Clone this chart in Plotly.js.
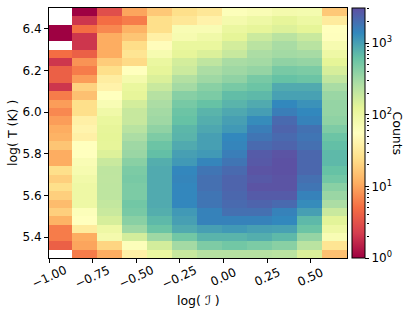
<!DOCTYPE html>
<html>
<head>
<meta charset="utf-8">
<script src="https://cdn.plot.ly/plotly-3.0.1.min.js"></script>
<style>html,body{margin:0;padding:0;background:#fff;}#chart{width:415px;height:312px;}</style>
</head>
<body>
<div id="chart"></div>
<script>
// Bin edges of the 2D histogram
var xEdges = [-1.009, -0.866, -0.724, -0.581, -0.438, -0.296, -0.153, -0.010, 0.132, 0.275, 0.418, 0.560, 0.703, 0.846];
var yEdges = [5.30, 5.34, 5.38, 5.42, 5.46, 5.50, 5.54, 5.58, 5.62, 5.66, 5.70, 5.74, 5.78, 5.82, 5.86, 5.90,
              5.94, 5.98, 6.02, 6.06, 6.10, 6.14, 6.18, 6.22, 6.26, 6.30, 6.34, 6.38, 6.42, 6.46, 6.50];

// Counts per x-bin column, listed from the top row (6.46-6.50) down to the bottom row (5.30-5.34); 0 = empty
var col00 = [0,0,1,1,0,5,2,4,4,2,6,9,7,9,11, 12,16,11,11,25,19,25,19,14,19,12,6,6,4,0];
var col01 = [1,2,5,2,2,4,8,6,9,20,15,25,25,38,42, 38,55,55,68,75,88,95,95,95,62,55,33,11,10,6];
var col02 = [3,5,7,11,11,11,18,25,35,40,55,70,90,110,120, 125,120,140,185,215,210,215,215,200,185,155,95,80,21,11];
var col03 = [10,6,12,16,24,28,23,55,80,110,120,160,190,190,230, 275,320,340,410,480,500,480,480,540,500,410,320,160,62,38];
var col04 = [17,25,25,38,52,75,105,120,145,185,240,275,300,320,380, 470,580,650,820,860,860,860,860,860,820,700,580,320,160,105];
var col05 = [25,30,70,75,110,120,160,180,250,300,420,510,580,620,720, 750,860,1000,1100,1400,1450,1400,1400,1400,1100,1000,860,540,300,190];
var col06 = [30,40,70,90,110,145,210,275,320,410,480,620,750,820,900, 1000,1000,1100,1450,1800,1950,1950,1800,1800,1500,1500,1000,750,470,240];
var col07 = [62,80,105,125,160,190,285,320,380,500,660,750,890,1000,1100, 1380,1450,1600,1800,2100,2300,2300,2200,2100,1950,1500,1100,750,540,240];
var col08 = [68,95,120,180,225,275,300,360,500,580,700,860,1020,1300,1600, 1800,2100,2600,2700,2900,2700,2900,2600,2300,1950,1500,1000,820,480,240];
var col09 = [80,120,140,225,285,305,380,500,620,860,980,1380,1600,2100,2300, 2100,2300,2900,3000,3000,2900,2900,2600,2100,1500,1380,980,700,410,225];
var col10 = [78,100,125,185,230,290,360,480,580,860,980,1200,1380,1500,1900, 1800,1950,2200,2200,2200,1950,1800,1500,1300,1000,700,580,360,225,145];
var col11 = [17,33,55,58,75,95,125,155,205,285,340,360,360,385,470, 580,650,700,700,620,540,410,340,275,185,130,95,70,28,15];
var col12 = [6,10,15,18,15,6,6,15,20,25,20,25,22,25,30, 25,25,30,25,20,25,20,20,15,12,2,2,15,20,12];

var xTickVals = [-1.0, -0.75, -0.5, -0.25, 0.0, 0.25, 0.5];
var xTickText = ['\u22121.00', '\u22120.75', '\u22120.50', '\u22120.25', '0.00', '0.25', '0.50'];
var yTickVals = [5.4, 5.6, 5.8, 6.0, 6.2, 6.4];
var cbarMajor = [0, 1, 2, 3];
var cbarMajorText = ['10<sup>0</sup>', '10<sup>1</sup>', '10<sup>2</sup>', '10<sup>3</sup>'];
var cbarMinorMult = [2, 3, 4, 5, 6, 7, 8, 9];
var countMax = 3090;

// matplotlib "Spectral"
var spectral = ['#9e0142','#d53e4f','#f46d43','#fdae61','#fee08b','#ffffbf','#e6f598','#abdda4','#66c2a5','#3288bd','#5e4fa2'];
var colorscale = spectral.map(function(c, i){ return [i/(spectral.length-1), c]; });

var columns = [col00, col01, col02, col03, col04, col05, col06, col07, col08, col09, col10, col11, col12];
var nRows = col00.length;
var z = [];
for (var r = 0; r < nRows; r++) {
  var row = [];
  var src = nRows - 1 - r; // bottom row first
  for (var c = 0; c < columns.length; c++) {
    var v = columns[c][src];
    row.push(v > 0 ? Math.log10(v) : null);
  }
  z.push(row);
}
var zMax = Math.log10(countMax);

// minor tick positions for the log colorbar
var minorVals = [];
cbarMajor.forEach(function(d){
  cbarMinorMult.forEach(function(m){
    var val = d + Math.log10(m);
    if (val <= zMax) minorVals.push(val);
  });
});

// geometry (pixels)
var W = 415, H = 312, mL = 49, mR = 10, mT = 8, mB = 54;
var plotW = 298, plotH = 250;
var paperW = W - mL - mR;
function px2paperX(px){ return (px - mL) / paperW; }
function px2paperY(py){ return (H - mB - py) / plotH; }

var tickFont = {family: 'DejaVu Sans, sans-serif', size: 12, color: '#000'};
var labelFont = {family: 'DejaVu Sans, sans-serif', size: 12.5, color: '#000'};

var trace = {
  type: 'heatmap',
  x: xEdges,
  y: yEdges,
  z: z,
  zmin: 0,
  zmax: zMax,
  colorscale: colorscale,
  hoverongaps: false,
  colorbar: {
    x: px2paperX(351.5), xanchor: 'left', xpad: 0,
    y: 0.5, yanchor: 'middle', len: 1, lenmode: 'fraction', ypad: 0,
    thickness: 13, thicknessmode: 'pixels',
    outlinewidth: 1, outlinecolor: '#000',
    tickmode: 'array', tickvals: cbarMajor, ticktext: cbarMajorText,
    ticks: 'outside', ticklen: 4, tickwidth: 1, tickcolor: '#000',
    tickfont: tickFont
  }
};

var annotations = xTickVals.map(function(v, i){
  return {xref: 'x', yref: 'paper', x: v, y: px2paperY(277), text: xTickText[i],
          showarrow: false, textangle: -25, xanchor: 'center', yanchor: 'middle', font: tickFont};
});
annotations.push({xref: 'paper', yref: 'paper', x: px2paperX(mL + plotW / 2), y: px2paperY(300),
  text: 'log( \u2110 )', showarrow: false, xanchor: 'center', yanchor: 'middle', font: labelFont});
annotations.push({xref: 'paper', yref: 'paper', x: px2paperX(12), y: 0.5,
  text: 'log( T (K) )', showarrow: false, textangle: -90, xanchor: 'center', yanchor: 'middle', font: labelFont});
annotations.push({xref: 'paper', yref: 'paper', x: px2paperX(397.5), y: 0.5,
  text: 'Counts', showarrow: false, textangle: 90, xanchor: 'center', yanchor: 'middle', font: labelFont});

// invisible trace to carry the colorbar minor-tick axis
var minorTrace = {type: 'scatter', x: [null], y: [null], xaxis: 'x', yaxis: 'y2', showlegend: false, hoverinfo: 'skip'};

var layout = {
  width: W, height: H,
  margin: {l: mL, r: mR, t: mT, b: mB},
  paper_bgcolor: '#fff', plot_bgcolor: '#fff',
  font: tickFont,
  showlegend: false,
  annotations: annotations,
  xaxis: {
    domain: [0, plotW / paperW],
    range: [-1.0, 0.707],
    tickmode: 'array', tickvals: xTickVals, showticklabels: false,
    ticks: 'outside', ticklen: 4, tickwidth: 1, tickcolor: '#000',
    showline: true, mirror: true, linecolor: '#000', linewidth: 1,
    showgrid: false, zeroline: false
  },
  yaxis: {
    range: [5.30, 6.50],
    tickmode: 'array', tickvals: yTickVals, tickformat: '.1f',
    ticks: 'outside', ticklen: 4, tickwidth: 1, tickcolor: '#000',
    showline: true, mirror: true, linecolor: '#000', linewidth: 1,
    showgrid: false, zeroline: false,
    tickfont: tickFont
  },
  yaxis2: {
    overlaying: 'y', anchor: 'free', side: 'right',
    position: px2paperX(365.5),
    range: [0, zMax],
    tickmode: 'array', tickvals: minorVals, showticklabels: false,
    ticks: 'outside', ticklen: 2, tickwidth: 1, tickcolor: '#000',
    showline: false, showgrid: false, zeroline: false, fixedrange: true
  }
};

Plotly.newPlot('chart', [trace, minorTrace], layout, {staticPlot: true, displayModeBar: false});
</script>
</body>
</html>
